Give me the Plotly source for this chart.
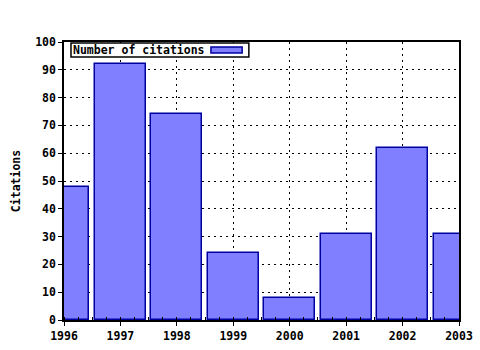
import plotly.graph_objects as go

years = [1996, 1997, 1998, 1999, 2000, 2001, 2002, 2003]
citations = [48, 92, 74, 24, 8, 31, 62, 31]
series_name = "Number of citations"
y_ticks = list(range(0, 101, 10))

FONT = "DejaVu Sans Mono"
FS = 11.5
fill = "#7f7fff"
edge = "#0000a0"

fig = go.Figure()
fig.add_trace(go.Bar(
    x=years, y=citations, name=series_name, width=0.9,
    marker=dict(color=fill, line=dict(color=edge, width=1.5)),
    showlegend=False,
))

fig.update_layout(
    width=480, height=350,
    margin=dict(l=64, r=21, t=42, b=30),
    paper_bgcolor="white", plot_bgcolor="white",
    font=dict(family=FONT, size=FS, color="black"),
    bargap=0,
    xaxis=dict(
        range=[1996, 2003], tickmode="array", tickvals=years,
        ticktext=[f"<b>{y}</b>" for y in years],
        showgrid=True, gridcolor="black", griddash="2px,4px", gridwidth=1,
        showline=True, linecolor="black", linewidth=1.5, mirror=True,
        ticks="outside", ticklen=4, tickcolor="black",
        minor=dict(ticks="inside", ticklen=3, dtick=0.25, tickcolor="black", showgrid=False),
        zeroline=False, automargin=False,
        tickfont=dict(family=FONT, size=FS),
    ),
    yaxis=dict(
        range=[0, 100], tickmode="array", tickvals=y_ticks,
        ticktext=[f"<b>{v}</b>" for v in y_ticks],
        showgrid=True, gridcolor="black", griddash="2px,4px", gridwidth=1,
        showline=True, linecolor="black", linewidth=1.5, mirror=True,
        ticks="outside", ticklen=4, tickcolor="black",
        zeroline=False, automargin=False,
        title=dict(text="<b>Citations</b>", font=dict(family=FONT, size=FS), standoff=12),
        tickfont=dict(family=FONT, size=FS),
    ),
)

# Legend box (text with swatch on the right)
fig.add_shape(
    type="rect", xref="paper", yref="paper",
    x0=0.0177, x1=0.468, y0=0.946, y1=0.996,
    fillcolor="white", line=dict(color="black", width=1.5),
)
fig.add_shape(
    type="rect", xref="paper", yref="paper",
    x0=0.372, x1=0.451, y0=0.960, y1=0.982,
    fillcolor=fill, line=dict(color=edge, width=1.5),
)
fig.add_annotation(
    xref="paper", yref="paper", x=0.017, y=0.971, xanchor="left", yanchor="middle",
    text="<b>" + series_name + "</b>",
    showarrow=False, align="left",
    font=dict(family=FONT, size=FS),
)

fig.write_html("out.html")
